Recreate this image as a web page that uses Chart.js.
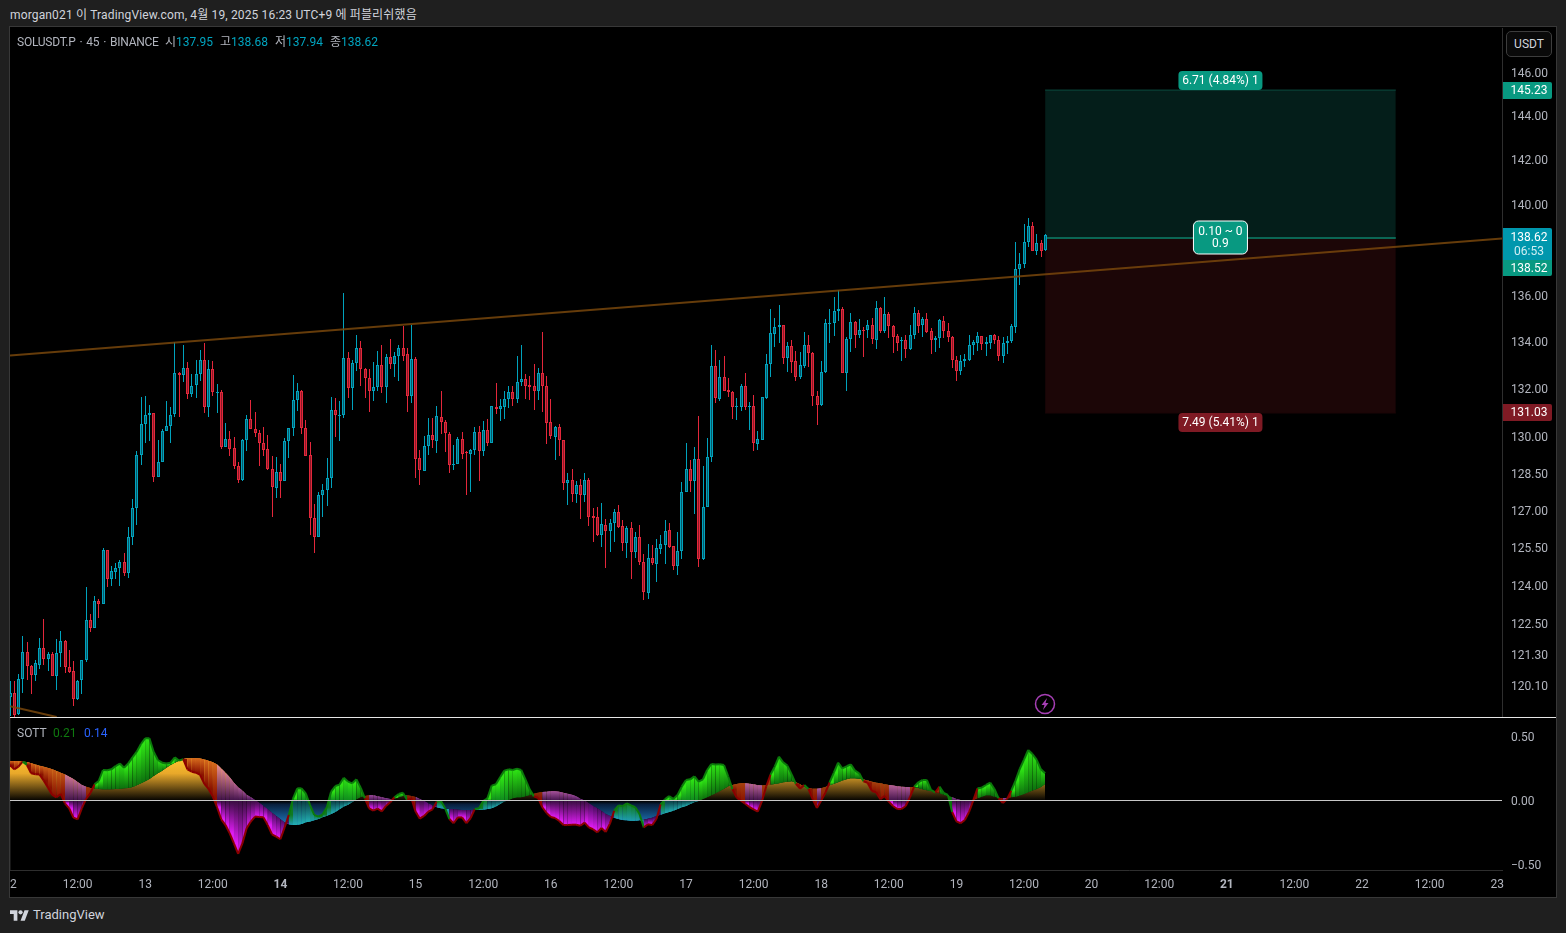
<!DOCTYPE html>
<html>
<head>
<meta charset="utf-8">
<script src="https://cdn.jsdelivr.net/npm/chart.js@4/dist/chart.umd.min.js"></script>
<style>
html,body{margin:0;padding:0;background:#1f1f1f;width:1566px;height:933px;overflow:hidden;font-family:Roboto,"Noto Sans CJK KR",sans-serif;font-size:12px;color:#b2b5be}
#frame{position:absolute;left:9px;top:26px;width:1546px;height:870px;background:#000;border:1px solid #383838}
canvas{position:absolute;display:block}
.t{position:absolute;white-space:nowrap;line-height:14px}
.teal{color:#00a4bf}
#sep{position:absolute;left:10px;top:717px;width:1546px;height:1px;background:#e6e6e6}
#usdt{position:absolute;left:1506px;top:31px;width:44px;height:24px;border:1px solid #3d3d3d;border-radius:5px;background:#0a0a0a;text-align:center;line-height:24px;color:#d1d4dc}
</style>
</head>
<body>
<div id="frame"></div>
<div class="t" style="left:10px;top:8px;color:#d1d4dc;letter-spacing:.15px">morgan021 이 TradingView.com, 4월 19, 2025 16:23 UTC+9 에 퍼블리쉬했음</div>
<canvas id="mainChart" width="1546" height="689" style="left:10px;top:28px"></canvas>
<canvas id="sottChart" width="1546" height="179" style="left:10px;top:718px"></canvas>
<div id="sep"></div>
<div id="usdt">USDT</div>
<div class="t" style="left:17px;top:35px;letter-spacing:-.25px;word-spacing:1.2px">SOLUSDT.P · 45 · BINANCE</div>
<div class="t" style="left:165px;top:35px">시<span class="teal">137.95</span></div>
<div class="t" style="left:220px;top:35px">고<span class="teal">138.68</span></div>
<div class="t" style="left:275px;top:35px">저<span class="teal">137.94</span></div>
<div class="t" style="left:330px;top:35px">종<span class="teal">138.62</span></div>
<div class="t" style="left:17px;top:726px">SOTT</div>
<div class="t" style="left:53px;top:726px;color:#0f7a0f">0.21</div>
<div class="t" style="left:84px;top:726px;color:#2962ff">0.14</div>
<svg style="position:absolute;left:1034px;top:693px" width="22" height="22" viewBox="0 0 22 22">
  <circle cx="11" cy="11" r="9.5" fill="#000" stroke="#a63fb5" stroke-width="1.5"/>
  <path d="M13 5 L7.5 12 H10.5 L9 17 L14.5 10 H11.5 Z" fill="#a63fb5"/>
</svg>
<svg style="position:absolute;left:10px;top:908px" width="19" height="15" viewBox="0 0 36 28">
  <path fill="#d1d4dc" d="M14 24H7V11H0V4h14v20zM28 24h-8l7.5-20h8L28 24z"/><circle fill="#d1d4dc" cx="20" cy="8" r="4"/>
</svg>
<div class="t" style="left:33px;top:908px;font-size:13px;color:#d1d4dc">TradingView</div>

<script>
// 45 minute candles, index 0 is the 12th 00:00, 32 candles a day
var opens = [
119.65,119.80,119.00,120.35,121.38,120.83,120.52,120.90,121.54,121.11,
121.30,120.48,121.34,121.81,120.80,120.65,119.60,120.31,121.07,122.63,
122.32,123.37,123.25,125.39,124.24,124.53,124.67,124.91,124.49,125.91,
127.07,129.24,130.53,130.90,130.98,128.36,128.95,130.24,130.44,130.94,
132.66,132.58,132.87,131.78,132.16,132.62,133.22,131.26,132.83,131.86,
131.86,129.56,129.91,129.53,128.79,128.24,129.85,130.74,130.32,130.15,
129.74,129.49,128.67,127.89,128.55,128.18,129.83,130.36,131.53,131.90,
130.36,129.24,126.67,125.93,127.60,127.81,128.30,131.11,130.90,130.90,
133.30,132.03,133.09,133.72,132.83,132.45,131.89,132.07,133.00,132.07,
133.34,133.05,133.39,133.72,133.47,131.68,133.26,129.12,128.59,129.61,
130.07,129.81,130.82,130.61,130.11,128.85,128.86,129.91,129.36,129.28,
129.47,130.19,129.43,130.28,129.73,131.22,131.17,131.26,131.57,131.86,
131.59,132.27,132.41,132.16,132.13,131.89,132.66,132.13,130.61,130.01,
130.40,129.87,128.12,128.22,127.67,128.01,127.63,128.22,126.75,126.71,
126.01,126.40,126.17,126.47,126.92,126.35,125.69,126.27,125.31,125.91,
124.91,123.71,125.07,124.85,125.45,125.61,126.19,125.55,124.77,125.35,
127.73,128.67,128.20,129.08,125.05,127.12,129.17,132.96,131.59,132.49,
131.95,131.86,131.26,131.26,132.11,131.27,131.28,129.70,129.88,131.62,
133.03,134.34,134.62,134.70,133.29,133.82,133.17,132.52,132.98,133.85,
133.51,131.70,131.33,132.73,134.80,134.82,135.31,135.39,132.69,134.11,
134.83,134.27,134.50,134.49,134.73,134.09,135.43,134.47,135.17,134.68,
134.24,134.02,134.07,133.68,134.28,135.22,134.73,134.96,134.44,134.05,
134.15,134.87,134.44,134.21,133.22,132.77,133.16,133.24,133.85,133.96,
134.24,133.88,133.96,134.28,134.07,133.37,133.94,134.02,134.62,137.13,
137.35,138.31,139.02,137.92,138.27,137.95];
var highs = [
120.29,120.29,120.55,122.02,121.78,120.89,121.08,121.93,122.67,121.38,
121.38,121.90,122.21,121.85,121.47,121.03,120.32,121.08,123.92,122.87,
123.58,123.45,125.47,125.40,124.76,124.87,125.00,125.28,126.31,127.45,
129.41,131.66,131.71,131.33,131.01,129.88,130.33,131.50,131.25,133.99,
132.70,133.86,133.13,132.62,133.23,133.65,133.94,133.23,133.17,132.21,
131.95,130.57,130.24,129.99,128.97,129.91,130.92,131.54,131.04,130.29,
130.42,130.09,129.20,129.17,128.88,129.95,130.38,132.58,132.25,131.96,
130.71,129.78,127.25,127.74,128.07,129.13,131.66,131.62,131.50,136.08,
133.55,133.23,134.28,134.04,132.89,132.83,133.13,133.61,133.86,133.48,
134.11,133.57,133.86,134.68,133.72,134.71,133.34,129.45,130.03,130.79,
130.79,131.28,131.92,130.71,130.19,129.67,130.00,130.21,129.43,129.50,
130.42,130.46,130.65,130.76,131.28,132.25,131.58,131.92,132.10,132.14,
133.40,133.86,132.63,132.55,133.06,132.89,134.41,132.55,131.58,130.44,
130.53,129.87,128.52,128.68,128.18,128.27,128.52,128.31,127.09,127.13,
127.29,126.64,126.63,127.04,127.20,126.60,126.36,126.52,126.12,126.40,
125.24,125.64,125.60,125.84,126.00,126.60,126.47,125.56,126.12,128.13,
129.75,129.05,129.58,130.86,128.80,129.96,133.86,133.65,133.23,133.40,
132.46,131.89,131.61,132.21,132.66,131.46,131.74,130.24,131.65,133.48,
135.40,135.02,135.57,134.71,133.99,134.08,133.61,133.55,134.41,134.28,
133.55,131.90,133.17,134.96,135.40,135.91,136.23,135.48,134.21,135.22,
134.87,134.97,134.63,134.92,135.03,135.75,135.49,135.92,135.27,134.71,
134.33,134.21,134.28,134.71,135.49,135.36,135.06,135.23,134.58,134.25,
134.96,135.09,134.80,134.24,133.40,133.44,133.48,134.29,134.08,134.41,
134.25,134.21,134.29,134.33,134.25,134.21,134.25,134.75,138.33,137.84,
139.12,139.37,139.20,138.68,138.42,138.68];
var lows = [
118.92,118.87,118.98,119.83,120.32,119.78,120.29,120.74,120.89,120.67,
120.45,119.93,120.79,120.56,120.57,119.30,119.55,119.78,121.01,122.17,
122.30,122.69,123.24,123.94,123.98,124.25,123.98,124.38,124.30,125.60,
126.40,128.82,129.73,129.84,128.16,128.36,128.95,130.24,129.73,130.84,
130.84,132.31,131.59,131.66,131.62,132.35,131.01,130.84,131.72,131.00,
129.51,129.56,129.19,128.69,128.12,128.20,129.42,130.32,130.01,128.78,
129.19,128.64,126.74,127.50,127.50,128.18,129.14,130.05,131.09,130.10,
129.19,126.00,125.28,125.93,126.74,127.18,127.90,130.01,129.81,130.80,
131.62,131.12,132.77,132.10,131.62,131.04,131.51,131.92,131.82,131.41,
132.84,132.51,132.34,133.19,131.04,131.41,128.31,128.00,128.58,129.25,
129.54,129.35,130.12,129.39,128.52,128.64,128.86,129.09,127.63,127.74,
129.25,128.19,129.19,129.60,129.73,130.95,130.64,130.75,131.20,131.29,
131.41,132.13,131.58,131.54,131.12,131.55,131.04,129.71,129.92,129.05,
129.21,127.82,127.21,127.33,127.29,126.64,127.34,126.36,125.72,125.97,
125.52,124.68,125.32,125.72,126.29,125.36,125.08,124.26,125.08,124.80,
123.42,123.47,124.80,124.14,125.24,124.84,125.49,124.60,124.40,125.04,
127.73,127.74,126.86,124.72,125.01,127.12,128.97,131.41,131.51,131.93,
131.65,130.75,130.71,131.09,131.12,130.29,129.43,129.46,129.85,131.59,
132.52,133.78,133.95,133.06,132.72,132.65,132.34,132.42,132.86,132.94,
131.30,130.51,131.30,132.65,133.96,134.24,134.89,132.65,131.89,133.57,
133.74,134.16,133.36,134.16,133.91,133.69,134.37,134.37,134.16,133.52,
133.61,133.19,133.31,133.65,134.13,134.36,134.22,134.36,133.49,133.57,
133.74,134.16,133.99,132.89,132.34,132.59,132.93,133.19,133.44,133.61,
133.65,133.40,133.69,133.91,133.19,133.10,133.48,133.95,134.37,136.44,
137.19,138.11,137.92,137.75,137.67,137.94];
var closes = [
119.81,118.98,120.35,121.38,120.83,120.52,120.95,121.54,121.11,121.30,
120.48,121.34,121.81,120.79,120.63,119.60,120.27,121.07,122.63,122.32,
123.37,123.24,125.40,124.24,124.56,124.67,124.91,124.49,125.91,127.08,
129.24,130.53,130.90,130.98,128.36,128.95,130.24,130.44,130.90,132.66,
132.58,132.87,131.78,132.14,132.62,133.22,131.26,132.83,131.86,131.88,
129.56,129.91,129.51,128.78,128.24,129.88,130.74,130.32,130.15,129.74,
129.47,128.67,127.93,128.55,128.18,129.83,130.36,131.53,131.90,130.36,
129.20,126.67,125.93,127.60,127.81,128.30,131.11,130.90,130.92,133.30,
132.03,133.09,133.72,132.83,132.45,131.89,132.07,133.00,132.07,133.34,
133.05,133.39,133.72,133.40,131.68,133.26,129.10,128.63,129.61,130.07,
129.85,130.86,130.60,130.14,128.82,128.87,129.91,129.30,129.34,129.47,
130.19,129.43,130.28,129.73,131.28,131.17,131.28,131.57,131.86,131.59,
132.28,132.41,132.14,132.06,131.89,132.66,132.10,130.56,130.05,130.40,
129.85,128.12,128.22,127.67,128.01,127.63,128.22,126.74,126.69,126.01,
126.43,126.17,126.47,126.92,126.32,125.69,126.27,125.33,125.91,124.93,
123.74,125.07,124.88,125.47,125.63,126.15,125.53,124.77,125.35,127.73,
128.67,128.20,129.08,125.05,127.12,129.17,132.96,131.60,132.49,131.93,
131.85,131.26,131.28,132.11,131.26,131.28,129.74,129.91,131.65,133.05,
134.36,134.62,134.70,133.29,133.82,133.15,132.52,133.00,133.85,133.51,
131.68,131.34,132.73,134.79,134.82,135.31,135.39,132.69,134.11,134.83,
134.27,134.49,134.48,134.73,134.13,135.43,134.47,135.17,134.68,134.22,
133.96,134.07,133.68,134.28,135.22,134.68,134.96,134.43,134.05,134.15,
134.92,134.44,134.19,133.20,132.77,133.17,133.27,133.85,133.98,134.24,
133.88,133.98,134.28,134.07,133.37,133.94,134.02,134.66,137.13,137.35,
138.31,139.02,137.92,138.27,137.92,138.62];

// SOTT oscillator
var sottFast = [
.281,.247,.268,.307,.281,.216,.208,.206,.159,.104,
.047,.029,.055,-.018,-.057,-.130,-.143,-.057,.016,.060,
.130,.156,.242,.240,.247,.273,.292,.260,.294,.341,
.385,.445,.490,.490,.385,.320,.299,.292,.299,.341,
.315,.326,.247,.229,.221,.203,.133,.094,.034,-.049,
-.143,-.188,-.253,-.331,-.414,-.331,-.214,-.161,-.122,-.125,
-.128,-.188,-.260,-.279,-.299,-.206,-.109,.021,.099,.099,
.060,-.031,-.109,-.122,-.104,-.049,.073,.117,.128,.182,
.151,.138,.169,.104,.021,-.057,-.076,-.060,-.081,-.039,
-.010,.029,.055,.065,.008,.021,-.083,-.138,-.117,-.083,
-.065,-.005,0,-.057,-.141,-.174,-.128,-.128,-.174,-.135,
-.063,-.057,0,.021,.120,.130,.185,.237,.247,.242,
.253,.242,.169,.091,.036,.023,-.049,-.094,-.125,-.133,
-.156,-.188,-.188,-.185,-.185,-.193,-.169,-.206,-.221,-.245,
-.211,-.242,-.177,-.076,-.036,-.039,-.018,-.034,-.049,-.102,
-.206,-.182,-.188,-.141,-.026,.013,.039,.016,.047,.112,
.164,.169,.193,.151,.169,.242,.289,.284,.286,.281,
.190,.091,.026,.003,-.021,-.047,-.065,-.083,0,.115,
.206,.268,.346,.302,.276,.208,.133,.096,.125,.094,
.013,-.055,.003,.065,.146,.221,.299,.255,.271,.286,
.237,.216,.154,.141,.078,.068,.013,.039,-.005,-.039,
-.063,-.063,-.039,.029,.112,.146,.164,.164,.086,.068,
.112,.063,.047,-.086,-.159,-.174,-.148,-.086,.005,.099,
.104,.125,.143,.094,.021,-.016,.016,.081,.159,.250,
.323,.398,.367,.323,.247,.216];
var sottSlow = [
.313,.313,.310,.307,.305,.294,.284,.276,.268,.258,
.247,.234,.221,.206,.190,.172,.148,.125,.112,.102,
.094,.094,.091,.091,.091,.094,.096,.099,.102,.109,
.122,.138,.154,.172,.195,.216,.237,.260,.281,.299,
.315,.328,.333,.333,.333,.331,.323,.315,.302,.284,
.253,.221,.185,.143,.107,.081,.049,.029,.008,-.013,
-.039,-.065,-.091,-.117,-.143,-.169,-.182,-.188,-.185,-.180,
-.167,-.161,-.151,-.141,-.128,-.115,-.102,-.086,-.065,-.044,
-.029,-.010,.013,.031,.039,.044,.044,.036,.029,.021,
.016,.018,.029,.039,.044,.039,.031,.016,0,-.018,
-.036,-.049,-.057,-.060,-.063,-.065,-.068,-.070,-.070,-.070,
-.070,-.070,-.068,-.063,-.057,-.044,-.023,-.005,.008,.021,
.029,.029,.036,.047,.057,.065,.070,.073,.076,.076,
.073,.065,.057,.049,.036,.018,.003,-.018,-.039,-.057,
-.078,-.102,-.117,-.130,-.141,-.148,-.151,-.154,-.154,-.151,
-.146,-.138,-.130,-.117,-.107,-.096,-.086,-.076,-.063,-.049,
-.039,-.023,-.010,0,.016,.029,.044,.060,.078,.096,
.115,.125,.133,.138,.138,.135,.130,.122,.120,.122,
.128,.133,.138,.146,.151,.154,.146,.130,.112,.102,
.096,.096,.099,.109,.122,.135,.146,.159,.169,.177,
.177,.174,.167,.159,.151,.143,.138,.130,.125,.120,
.115,.112,.109,.107,.107,.102,.091,.083,.078,.070,
.060,.049,.039,.029,.016,.008,.003,.003,.008,.021,
.034,.044,.044,.034,.026,.021,.023,.029,.034,.042,
.055,.068,.081,.094,.109,.133];

// time axis, one label every 16 candles
var timeTicks = [0,16,32,48,64,80,96,112,128,144,160,176,192,208,224,240,256,272,288,304,320,336,352];
var timeLabels = ['12','12:00','13','12:00','14','12:00','15','12:00','16','12:00','17','12:00','18','12:00','19','12:00','20','12:00','21','12:00','22','12:00','23'];
var boldLabels = ['14','21'];

var priceTicks = [120.10,121.30,122.50,124,125.50,127,128.50,130,132,134,136,138,140,142,144,146];
var sottTicks = [-0.5,0,0.5];

// long position tool: printed prices and where the box edges read on the axis
var positionStart = 245, positionEnd = 328;
var targetPrice = 145.23, entryPrice = 138.52, stopPrice = 131.03, lastPrice = 138.62;
var targetLevel = 145.18, entryLevel = 138.50, stopLevel = 130.99;

// trend lines
var trendUpper = [{x:0,y:133.41},{x:353.14,y:138.48}];
var trendLower = [{x:0,y:119.31},{x:11.05,y:118.90}];

var UP = '#00a3bd', DOWN = '#e4273b', UPFILL = '#07596a', DOWNFILL = '#8c1a28';
var GREENTAG = '#089981', REDTAG = '#7f1a24', TEALTAG = '#0097ad';
var LASTX = 353.14;
var FONT = 'Roboto, "Noto Sans CJK KR", sans-serif';

var wickData = [], bodyData = [], candleColor = [], candleFill = [];
for (var i = 0; i < closes.length; i++) {
  wickData.push({x:i, y:[lows[i], highs[i]]});
  bodyData.push({x:i, y:[opens[i], closes[i]]});
  candleColor.push(closes[i] >= opens[i] ? UP : DOWN);
  candleFill.push(closes[i] >= opens[i] ? UPFILL : DOWNFILL);
}

function noPadding(s){ s.paddingTop = 0; s.paddingBottom = 0; s.paddingLeft = 0; s.paddingRight = 0; }

// TradingView draws bars on whole pixels, chart.js does not
const snapBars = {
  id:'snapBars',
  afterDatasetsUpdate(chart){
    chart.data.datasets.forEach((ds, n) => {
      if (ds.type !== 'bar') return;
      chart.getDatasetMeta(n).data.forEach(el => {
        el.x = Math.floor(el.x + 0.15) + 0.5;
        el.y = Math.round(el.y);
        el.base = Math.round(el.base);
        if (Math.abs(el.base - el.y) < 1) el.base = el.y + 1;
      });
    });
  }
};

function pill(ctx, x, y, w, h, r, color, border){
  ctx.beginPath();
  ctx.roundRect(x, Math.round(y), w, h, r);
  ctx.fillStyle = color;
  ctx.fill();
  if (border) { ctx.strokeStyle = border; ctx.lineWidth = 1; ctx.stroke(); }
}

const positionLabels = {
  id:'positionLabels',
  afterDraw(chart){
    const {ctx, scales:{x, y}} = chart;
    const cx = x.getPixelForValue((positionStart + positionEnd) / 2);
    const yTarget = y.getPixelForValue(targetLevel);
    const yEntry = y.getPixelForValue(entryLevel);
    const yStop = y.getPixelForValue(stopLevel);
    const axisX = x.right + 1;
    ctx.save();
    ctx.font = '12px ' + FONT;
    ctx.textAlign = 'center';
    ctx.textBaseline = 'middle';

    pill(ctx, cx - 42, yTarget - 19, 84, 19, 4, GREENTAG);
    ctx.fillStyle = '#fff';
    ctx.fillText('6.71 (4.84%) 1', cx, yTarget - 9);

    pill(ctx, cx - 42, yStop + 0.5, 84, 19, 4, REDTAG);
    ctx.fillStyle = '#fff';
    ctx.fillText('7.49 (5.41%) 1', cx, yStop + 10);

    pill(ctx, cx - 27, yEntry - 17, 54, 33, 5, GREENTAG, '#fff');
    ctx.fillStyle = '#fff';
    ctx.fillText('0.10 ~ 0', cx, yEntry - 6);
    ctx.fillText('0.9', cx, yEntry + 6);

    // price tags on the axis
    pill(ctx, axisX, yTarget - 8, 49, 17, [0,2,2,0], GREENTAG);
    ctx.fillStyle = '#fff';
    ctx.fillText(targetPrice.toFixed(2), axisX + 26, yTarget + 1);

    pill(ctx, axisX, yEntry - 10, 49, 32, [0,2,0,0], TEALTAG);
    ctx.fillStyle = '#fff';
    ctx.fillText(lastPrice.toFixed(2), axisX + 26, yEntry);
    ctx.fillStyle = '#cfeef3';
    ctx.fillText('06:53', axisX + 26, yEntry + 14);

    pill(ctx, axisX, yEntry + 22, 49, 16, [0,0,2,0], GREENTAG);
    ctx.fillStyle = '#fff';
    ctx.fillText(entryPrice.toFixed(2), axisX + 26, yEntry + 31);

    pill(ctx, axisX, yStop - 8.5, 49, 17, [0,2,2,0], REDTAG);
    ctx.fillStyle = '#fff';
    ctx.fillText(stopPrice.toFixed(2), axisX + 26, yStop + 0.5);
    ctx.restore();
  }
};

var mainChart = new Chart(document.getElementById('mainChart').getContext('2d'), {
  type:'bar',
  data:{datasets:[
    {type:'line', data:trendUpper, borderColor:'rgba(120,70,12,0.85)', borderWidth:2, pointRadius:0, order:0},
    {type:'line', data:trendLower, borderColor:'rgba(120,70,12,0.85)', borderWidth:2, pointRadius:0, order:0},
    {type:'bar', data:bodyData, barThickness:3, backgroundColor:candleFill, borderColor:candleColor, borderWidth:1, borderSkipped:false, inflateAmount:0, grouped:false, order:1},
    {type:'bar', data:wickData, barThickness:1, backgroundColor:candleColor, borderWidth:0, inflateAmount:0, grouped:false, order:2},
    {type:'line', data:[{x:positionStart,y:entryLevel},{x:positionEnd,y:entryLevel}], borderColor:'#0b6654', borderWidth:2, pointRadius:0, order:3},
    {type:'line', data:[{x:positionStart,y:targetLevel},{x:positionEnd,y:targetLevel}], borderColor:'#0b4a3e', borderWidth:1, pointRadius:0, fill:{value:entryLevel}, backgroundColor:'#041e1a', order:4},
    {type:'line', data:[{x:positionStart,y:stopLevel},{x:positionEnd,y:stopLevel}], borderColor:'#1c0607', borderWidth:1, pointRadius:0, fill:{value:entryLevel}, backgroundColor:'#1c0607', order:4}
  ]},
  options:{
    responsive:false,
    animation:false,
    events:[],
    layout:{padding:0},
    plugins:{legend:{display:false}, tooltip:{enabled:false}},
    scales:{
      x:{type:'linear', display:false, offset:false, min:0, max:LASTX},
      y:{
        type:'logarithmic', position:'right', min:118.90, max:148.08, bounds:'data',
        afterBuildTicks(s){ s.ticks = priceTicks.map(v => ({value:v})); },
        afterFit(s){ s.width = 54; noPadding(s); },
        grid:{display:false, drawTicks:false},
        border:{color:'#2e2e2e'},
        ticks:{autoSkip:false, padding:9, labelOffset:1.5, color:'#b2b5be', font:{family:FONT, size:12}, callback:v => Number(v).toFixed(2)}
      }
    }
  },
  plugins:[snapBars, positionLabels]
});

// colours for the oscillator fills
function hex(c){ return [parseInt(c.substr(1,2),16), parseInt(c.substr(3,2),16), parseInt(c.substr(5,2),16)]; }
function mix(a, b, t){
  t = Math.max(0, Math.min(1, t));
  const p = hex(a), q = hex(b);
  return 'rgb(' + [0,1,2].map(k => Math.round(p[k] + (q[k] - p[k]) * t)).join(',') + ')';
}

var slowGradient = null, bandCache = {};
function slowFill(c){
  if (!slowGradient) {
    const y = c.chart.scales.y;
    const top = y.getPixelForValue(0.33), bottom = y.getPixelForValue(-0.19), zero = y.getPixelForValue(0);
    slowGradient = c.chart.ctx.createLinearGradient(0, top, 0, bottom);
    const f = (zero - top) / (bottom - top);
    slowGradient.addColorStop(0, '#ffc42e');
    slowGradient.addColorStop(0.35 * f, '#e8a82a');
    slowGradient.addColorStop(f, '#000000');
    slowGradient.addColorStop(Math.min(1, f + 0.05), '#081f3c');
    slowGradient.addColorStop(1, '#1f7cc4');
  }
  return slowGradient;
}
function bandFill(c){
  const i = c.p0DataIndex;
  if (bandCache[i]) return bandCache[i];
  const L = sottFast[i], S = sottSlow[i];
  const y = c.chart.scales.y;
  const gr = c.chart.ctx.createLinearGradient(0, y.getPixelForValue(Math.max(L,S)), 0, y.getPixelForValue(Math.min(L,S)) + 0.01);
  const f = Math.abs(L - S) < 0.001 ? 0.5 : Math.max(L,S) / (Math.max(L,S) - Math.min(L,S));
  if (L >= S) {
    if (S >= 0) {
      gr.addColorStop(0, '#2ee414');
      gr.addColorStop(1, '#0c6f0e');
    } else if (L > 0) {
      gr.addColorStop(0, '#2ee414');
      gr.addColorStop(f, '#0e8a1e');
      gr.addColorStop(f, '#0a3f44');
      gr.addColorStop(1, '#23b0b4');
    } else {
      gr.addColorStop(0, '#0f7a22');
      gr.addColorStop(1, '#1e9cac');
    }
  } else if (L >= 0) {
    gr.addColorStop(0, mix('#7a1c00', '#d66a1c', S / 0.3));
    gr.addColorStop(1, '#8a1200');
  } else if (S > 0) {
    gr.addColorStop(0, mix('#8a3a9e', '#f0948c', S / 0.3));
    gr.addColorStop(f, '#3e1048');
    gr.addColorStop(f, '#3a0e42');
    gr.addColorStop(1, '#e01cf5');
  } else {
    gr.addColorStop(0, '#460c5c');
    gr.addColorStop(1, '#e01cf5');
  }
  bandCache[i] = gr;
  return gr;
}

var fastPoints = sottFast.map((v,i) => ({x:i, y:v}));
var slowPoints = sottSlow.map((v,i) => ({x:i, y:v}));

var sottChart = new Chart(document.getElementById('sottChart').getContext('2d'), {
  type:'line',
  data:{
    datasets:[
      {
        data:fastPoints,
        borderWidth:2, pointRadius:0, borderColor:'#0b7a0b', backgroundColor:'#0b7a0b',
        fill:2, order:0,
        segment:{
          borderColor:c => sottFast[c.p0DataIndex] >= sottSlow[c.p0DataIndex] ? '#0b7a0b' : '#8b0000',
          backgroundColor:bandFill
        }
      },
      // same band again underneath, hides the seams between the candle columns
      {
        data:fastPoints,
        borderWidth:0, pointRadius:0, borderColor:'transparent', backgroundColor:'#000',
        fill:2, order:1,
        segment:{backgroundColor:bandFill}
      },
      {
        data:slowPoints,
        borderWidth:0, pointRadius:0, borderColor:'transparent', backgroundColor:'#000',
        fill:'origin', order:2,
        segment:{backgroundColor:slowFill}
      }
    ]
  },
  options:{
    responsive:false,
    animation:false,
    events:[],
    layout:{padding:0},
    plugins:{legend:{display:false}, tooltip:{enabled:false}},
    scales:{
      x:{
        type:'linear', offset:false, min:0, max:LASTX,
        afterBuildTicks(s){ s.ticks = timeTicks.map(v => ({value:v})); },
        afterFit(s){ s.height = 27; noPadding(s); },
        grid:{display:false, drawTicks:false},
        border:{color:'#2e2e2e'},
        ticks:{
          autoSkip:false, maxRotation:0, minRotation:0, padding:8, color:'#b2b5be',
          font:c => ({family:FONT, size:12, weight:c.tick && boldLabels.includes(timeLabels[timeTicks.indexOf(c.tick.value)]) ? 'bold' : 'normal'}),
          callback:v => timeLabels[timeTicks.indexOf(v)]
        }
      },
      y:{
        type:'linear', position:'right', min:-0.539, max:0.648,
        afterBuildTicks(s){ s.ticks = sottTicks.map(v => ({value:v})); },
        afterFit(s){ s.width = 54; noPadding(s); },
        grid:{z:1, drawTicks:false, color:c => c.tick && c.tick.value === 0 ? '#c8c8c8' : 'transparent'},
        border:{color:'#2e2e2e'},
        ticks:{autoSkip:false, padding:9, labelOffset:1, color:'#b2b5be', font:{family:FONT, size:12}, callback:v => (v < 0 ? '−' : '') + Math.abs(v).toFixed(2)}
      }
    }
  }
});
</script>
</body>
</html>
